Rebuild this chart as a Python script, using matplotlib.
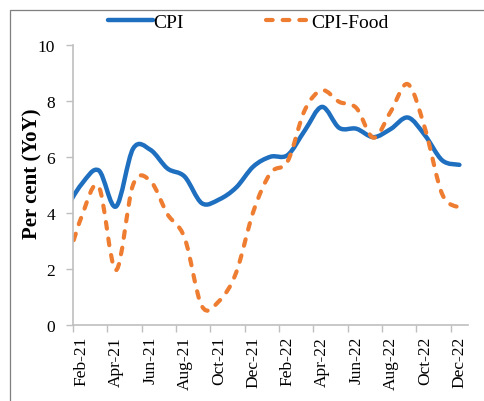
"""CPI and CPI-Food inflation, YoY"""

import numpy as np
import matplotlib
matplotlib.use('Agg')
import matplotlib.pyplot as plt
from matplotlib.path import Path
from matplotlib.patches import PathPatch, Rectangle
from matplotlib.lines import Line2D

months = ['Jan-21', 'Feb-21', 'Mar-21', 'Apr-21', 'May-21', 'Jun-21',
          'Jul-21', 'Aug-21', 'Sep-21', 'Oct-21', 'Nov-21', 'Dec-21',
          'Jan-22', 'Feb-22', 'Mar-22', 'Apr-22', 'May-22', 'Jun-22',
          'Jul-22', 'Aug-22', 'Sep-22', 'Oct-22', 'Nov-22', 'Dec-22']
cpi = [4.06, 5.03, 5.52, 4.23, 6.30, 6.26, 5.59, 5.30, 4.35, 4.48, 4.91, 5.66,
       6.01, 6.07, 6.95, 7.79, 7.04, 7.01, 6.71, 7.00, 7.41, 6.77, 5.88, 5.72]
cpi_food = [1.89, 3.87, 4.94, 1.96, 5.01, 5.15, 3.96, 3.11, 0.68, 0.85, 1.87, 4.05,
            5.43, 5.85, 7.68, 8.38, 7.97, 7.75, 6.69, 7.62, 8.60, 7.01, 4.67, 4.19]

BLUE = '#1f6fc0'
ORANGE = '#ee7d31'
GREY = '#bfbfbf'
DASH = (0, (1.6, 2.4))
plt.rcParams['font.family'] = ['Liberation Serif', 'DejaVu Serif']


def smooth_path(x, y):
    """Bezier path through the points, like a spreadsheet's smoothed line"""
    p = np.column_stack([x, y]).astype(float)
    pp = np.vstack([p[0], p, p[-1]])
    verts = [p[0]]
    codes = [Path.MOVETO]
    for i in range(len(p) - 1):
        c1 = pp[i + 1] + (pp[i + 2] - pp[i]) / 6.0
        c2 = pp[i + 2] - (pp[i + 3] - pp[i + 1]) / 6.0
        verts += [c1, c2, pp[i + 2]]
        codes += [Path.CURVE4] * 3
    return Path(verts, codes)


x = np.arange(len(months))

fig = plt.figure(figsize=(4.85, 4.02), dpi=100)
fig.patches.append(Rectangle((10 / 485, -0.1), 1.2, 1.1 - 11 / 402,
                             transform=fig.transFigure, fill=False,
                             edgecolor='#7f7f7f', linewidth=0.9))
ax = fig.add_axes([73 / 485, 76 / 402, 395 / 485, 280 / 402])

ax.add_patch(PathPatch(smooth_path(x, cpi), fill=False, edgecolor=BLUE,
                       linewidth=3.2, capstyle='round', joinstyle='round'))
ax.add_patch(PathPatch(smooth_path(x, cpi_food), fill=False, edgecolor=ORANGE,
                       linewidth=3.0, linestyle=DASH, capstyle='round'))

ax.set_xlim(0.5, len(months) - 0.5)
ax.set_ylim(0, 10)
ax.set_yticks(np.arange(0, 11, 2))

# ticks on the category borders, labels on the category centres
ax.set_xticks(x[1::2] - 0.5)
ax.set_xticklabels([])
ax.set_xticks(x[1::2], minor=True)
ax.set_xticklabels(months[1::2], minor=True, rotation=90, fontsize=12.5)
ax.tick_params(axis='x', which='minor', length=0, pad=8)
ax.tick_params(axis='x', which='major', length=5, color=GREY, width=1)
ax.tick_params(axis='y', length=5, color=GREY, width=1, labelsize=12.5, pad=8)

for s in ['top', 'right']:
    ax.spines[s].set_visible(False)
for s in ['left', 'bottom']:
    ax.spines[s].set_color(GREY)
    ax.spines[s].set_linewidth(1.2)

ax.set_ylabel('Per cent (YoY)', fontsize=15, fontweight='bold')
ax.yaxis.set_label_coords(-0.076, 0.545)

handles = [Line2D([], [], color=BLUE, lw=3.2, solid_capstyle='round'),
           Line2D([], [], color=ORANGE, lw=3.0, linestyle=DASH,
                  dash_capstyle='round')]
fig.legend(handles, ['CPI', 'CPI-Food'], loc='center', ncol=2,
           bbox_to_anchor=(0.512, 0.943), frameon=False, fontsize=14,
           handlelength=2.3, handletextpad=0.05, columnspacing=4.2,
           borderpad=0)

fig.savefig('out.png', dpi=100)
